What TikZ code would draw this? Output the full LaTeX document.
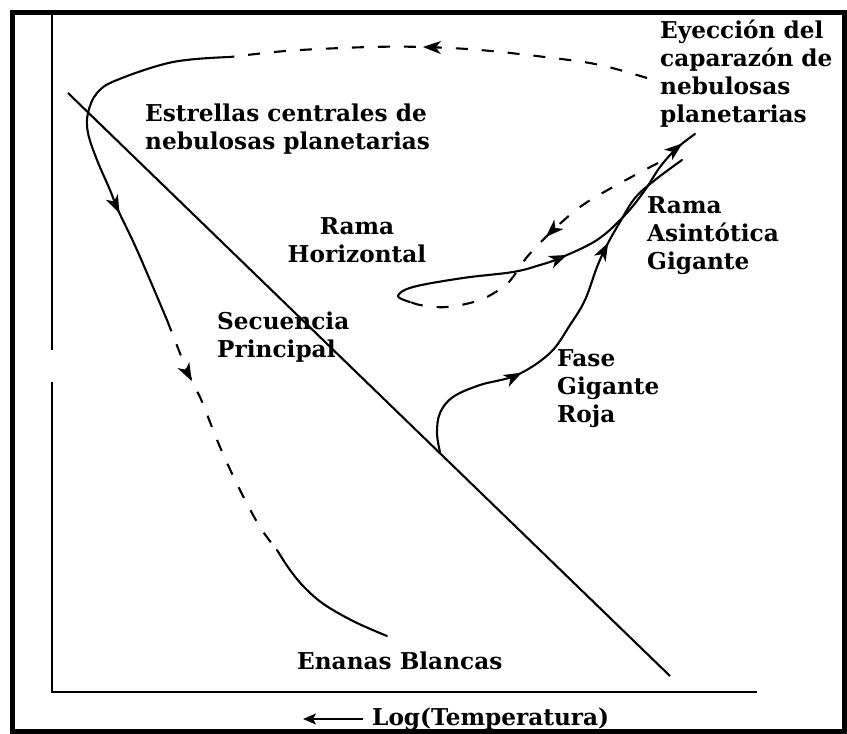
\documentclass[tikz,border=0pt]{standalone}
\usepackage{fontspec}
\setmainfont{DejaVu Serif}
\usetikzlibrary{arrows.meta,decorations.markings}
\begin{document}
\begin{tikzpicture}[x=1pt,y=-1pt,
  curve/.style={line width=2.1pt, line join=round, line cap=round},
  dashcurve/.style={line width=2.1pt, line join=round, dash pattern=on 12pt off 14pt},
  lbl/.style={font=\fontsize{23.2}{28}\selectfont\bfseries, inner sep=0pt, align=left, anchor=base west},
  tipst/.tip={Stealth[length=18pt,width=13pt,inset=5pt]},
  mk/.style={postaction={decorate}, decoration={markings, mark=at position #1 with {\arrow{tipst}}}}
]
\useasboundingbox (0,0) rectangle (847,734);
% frame
\draw[line width=5pt] (12.5,12.5) rectangle (844.5,731);
% axes
\draw[line width=2pt] (52,15) -- (52,350);
\draw[line width=2pt] (52,382) -- (52,692);
\draw[line width=2.6pt] (51,692) -- (757,692);
% main sequence
\coordinate (ms1) at (68,93);
\coordinate (ms2) at (670,676);
\draw[line width=2.1pt] (ms1) -- (ms2);
% labels (anchor = baseline of last line)
\node[lbl] (ecn) at (145,149) {Estrellas centrales de\\nebulosas planetarias};
\node[lbl] (eye) at (660,122) {Eyección del\\caparazón de\\nebulosas\\planetarias};
\node[lbl] (rag) at (647,269) {Rama\\Asintótica\\Gigante};
\node[lbl, align=center, anchor=base] (rh) at (357,262) {Rama\\Horizontal};
\node[lbl] (sp) at (217,357) {Secuencia\\Principal};
\node[lbl] (fgr) at (557,422) {Fase\\Gigante\\Roja};
\node[lbl] (eb) at (297,669) {Enanas Blancas};
\node[lbl] (lt) at (372,725) {Log(Temperatura)};
\draw[line width=1.8pt, -{Stealth[length=13pt,width=11pt,inset=3pt]}] ([xshift=-9pt,yshift=6pt]lt.base west) -- ++(-60,0);
% central-star track: dashed top
\draw[dashcurve, mk=227pt] plot[smooth, tension=0.6] coordinates {(647,78) (600,65) (553,58) (480,50) (423,47) (370,47) (300,50) (265,53) (230,57)};
% solid descent
\draw[curve, mk=269pt] plot[smooth, tension=0.6] coordinates {(230,57) (173,62) (117,80) (97,93) (88,113) (88,133) (97,160) (110,190) (118,210) (137,250) (167,320)};
% dashed cooling
\draw[dashcurve, mk=66pt] plot[smooth, tension=0.6] coordinates {(167,320) (188,373) (200,397) (220,447) (240,490) (260,527) (277,550)};
% white dwarfs
\draw[curve] plot[smooth, tension=0.6] coordinates {(277,550) (290,570) (305,588) (325,605) (355,622) (387,636)};
% red giant + AGB
\draw[curve, postaction={decorate}, decoration={markings,
   mark=at position 134pt with {\arrow{tipst}},
   mark=at position 294pt with {\arrow{tipst}}}]
  plot[smooth, tension=0.6] coordinates {(440,452) (437,433) (440,413) (453,397) (480,385) (517,375) (550,353) (570,325) (585,300) (597,267) (607,245) (620,222) (635,198) (655,180) (682,160)};
% horizontal branch solid
\draw[curve, postaction={decorate}, decoration={markings,
   mark=at position 190pt with {\arrow{tipst}},
   mark=at position 353pt with {\arrow{tipst}}}]
  plot[smooth, tension=0.6] coordinates {(410,302) (398,296) (413,287) (463,278) (513,272) (540,265) (560,258) (597,240) (625,215) (645,190) (660,167) (677,148) (695,134)};
% horizontal branch dashed return
\draw[dashcurve, mk=135pt] plot[smooth, tension=0.6] coordinates {(658,163) (613,187) (580,207) (550,233) (527,257) (513,277) (503,287) (480,300) (447,307) (420,305) (404,299)};
\end{tikzpicture}
\end{document}
